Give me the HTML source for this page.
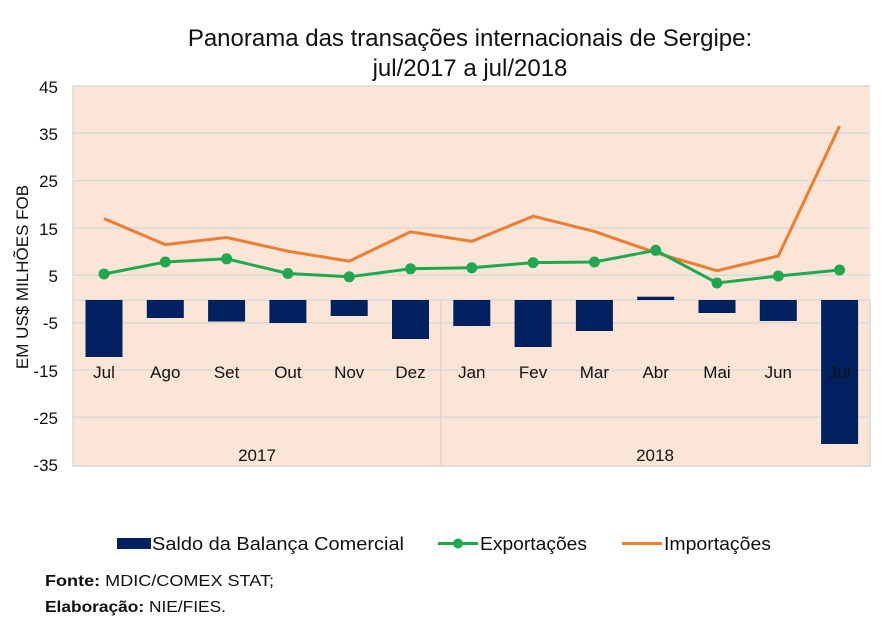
<!DOCTYPE html>
<html><head><meta charset="utf-8"><style>
html,body{margin:0;padding:0;background:#fff;}
svg{display:block;font-family:"Liberation Sans",sans-serif;}
</style></head><body>
<svg width="886" height="632" viewBox="0 0 886 632">
<rect width="886" height="632" fill="#fff"/>
<text x="470" y="46" font-size="24" text-anchor="middle" fill="#111">Panorama das transações internacionais de Sergipe:</text>
<text x="470" y="76" font-size="24" text-anchor="middle" fill="#111">jul/2017 a jul/2018</text>
<rect x="73" y="86" width="797" height="381" fill="#fbe5d6"/>
<g stroke="#d9d9d9" stroke-width="1.5">
<line x1="73" x2="870" y1="86" y2="86"/>
<line x1="73" x2="870" y1="133.3" y2="133.3"/>
<line x1="73" x2="870" y1="180.6" y2="180.6"/>
<line x1="73" x2="870" y1="228" y2="228"/>
<line x1="73" x2="870" y1="275.3" y2="275.3"/>
<line x1="73" x2="870" y1="300" y2="300"/>
<line x1="73" x2="870" y1="322.7" y2="322.7"/>
<line x1="73" x2="870" y1="370" y2="370"/>
<line x1="73" x2="870" y1="417.3" y2="417.3"/>
<line x1="73" x2="870" y1="466" y2="466"/>
<line x1="73" x2="73" y1="86" y2="467"/>
<line x1="441" x2="441" y1="300" y2="467"/>
<line x1="870" x2="870" y1="300" y2="467"/>
</g>
<g font-size="17" fill="#111" text-anchor="end">
<text x="58" y="93">45</text><text x="58" y="140">35</text><text x="58" y="187">25</text>
<text x="58" y="235">15</text><text x="58" y="282">5</text><text x="58" y="329">-5</text>
<text x="58" y="377">-15</text><text x="58" y="424">-25</text><text x="58" y="471">-35</text>
</g>
<text transform="translate(28,277) rotate(-90)" font-size="17" text-anchor="middle" fill="#111">EM US$ MILHÕES FOB</text>
<g fill="#002060">
<rect x="85.5" y="300" width="37" height="57"/>
<rect x="146.8" y="300" width="37" height="18"/>
<rect x="208.1" y="300" width="37" height="21.5"/>
<rect x="269.4" y="300" width="37" height="23"/>
<rect x="330.7" y="300" width="37" height="16"/>
<rect x="392" y="300" width="37" height="39"/>
<rect x="453.3" y="300" width="37" height="26"/>
<rect x="514.6" y="300" width="37" height="47"/>
<rect x="575.9" y="300" width="37" height="31"/>
<rect x="637.2" y="296.7" width="37" height="3.3"/>
<rect x="698.5" y="300" width="37" height="13"/>
<rect x="759.8" y="300" width="37" height="21"/>
<rect x="821.1" y="300" width="37" height="144"/>
</g>
<g font-size="17" fill="#111" text-anchor="middle">
<text x="104" y="378">Jul</text><text x="165.3" y="378">Ago</text><text x="226.6" y="378">Set</text>
<text x="287.9" y="378">Out</text><text x="349.2" y="378">Nov</text><text x="410.5" y="378">Dez</text>
<text x="471.8" y="378">Jan</text><text x="533.1" y="378">Fev</text><text x="594.4" y="378">Mar</text>
<text x="655.7" y="378">Abr</text><text x="717" y="378">Mai</text><text x="778.3" y="378">Jun</text>
<text x="839.6" y="378">Jul</text>
<text x="257" y="461">2017</text><text x="655" y="461">2018</text>
</g>
<polyline fill="none" stroke="#ed7d31" stroke-width="3" points="104,218.6 165.3,244.6 226.6,237.5 287.9,251.2 349.2,261.2 410.5,231.8 471.8,241.3 533.1,216.2 594.4,231.4 655.7,252.7 717,270.7 778.3,256 839.6,126"/>
<polyline fill="none" stroke="#1fa84f" stroke-width="3" points="104,274 165.3,262 226.6,258.8 287.9,273.5 349.2,276.8 410.5,268.8 471.8,267.8 533.1,262.6 594.4,262 655.7,250.3 717,283 778.3,276 839.6,270"/>
<g fill="#1fa84f">
<circle cx="104" cy="274" r="5.5"/><circle cx="165.3" cy="262" r="5.5"/><circle cx="226.6" cy="258.8" r="5.5"/>
<circle cx="287.9" cy="273.5" r="5.5"/><circle cx="349.2" cy="276.8" r="5.5"/><circle cx="410.5" cy="268.8" r="5.5"/>
<circle cx="471.8" cy="267.8" r="5.5"/><circle cx="533.1" cy="262.6" r="5.5"/><circle cx="594.4" cy="262" r="5.5"/>
<circle cx="655.7" cy="250.3" r="5.5"/><circle cx="717" cy="283" r="5.5"/><circle cx="778.3" cy="276" r="5.5"/>
<circle cx="839.6" cy="270" r="5.5"/>
</g>
<rect x="117" y="538" width="34" height="11" fill="#002060"/>
<text x="152" y="550" font-size="18" fill="#111" textLength="252" lengthAdjust="spacingAndGlyphs">Saldo da Balança Comercial</text>
<line x1="438" x2="478" y1="543.5" y2="543.5" stroke="#1fa84f" stroke-width="3"/>
<circle cx="458" cy="543.5" r="5" fill="#1fa84f"/>
<text x="480" y="550" font-size="18" fill="#111" textLength="107" lengthAdjust="spacingAndGlyphs">Exportações</text>
<line x1="622" x2="662" y1="543.5" y2="543.5" stroke="#ed7d31" stroke-width="3"/>
<text x="664" y="550" font-size="18" fill="#111" textLength="107" lengthAdjust="spacingAndGlyphs">Importações</text>
<text x="45" y="586" font-size="16" fill="#111" textLength="229" lengthAdjust="spacingAndGlyphs"><tspan font-weight="bold">Fonte:</tspan> MDIC/COMEX STAT;</text>
<text x="45" y="612" font-size="16" fill="#111" textLength="181" lengthAdjust="spacingAndGlyphs"><tspan font-weight="bold">Elaboração:</tspan> NIE/FIES.</text>
</svg>
</body></html>
